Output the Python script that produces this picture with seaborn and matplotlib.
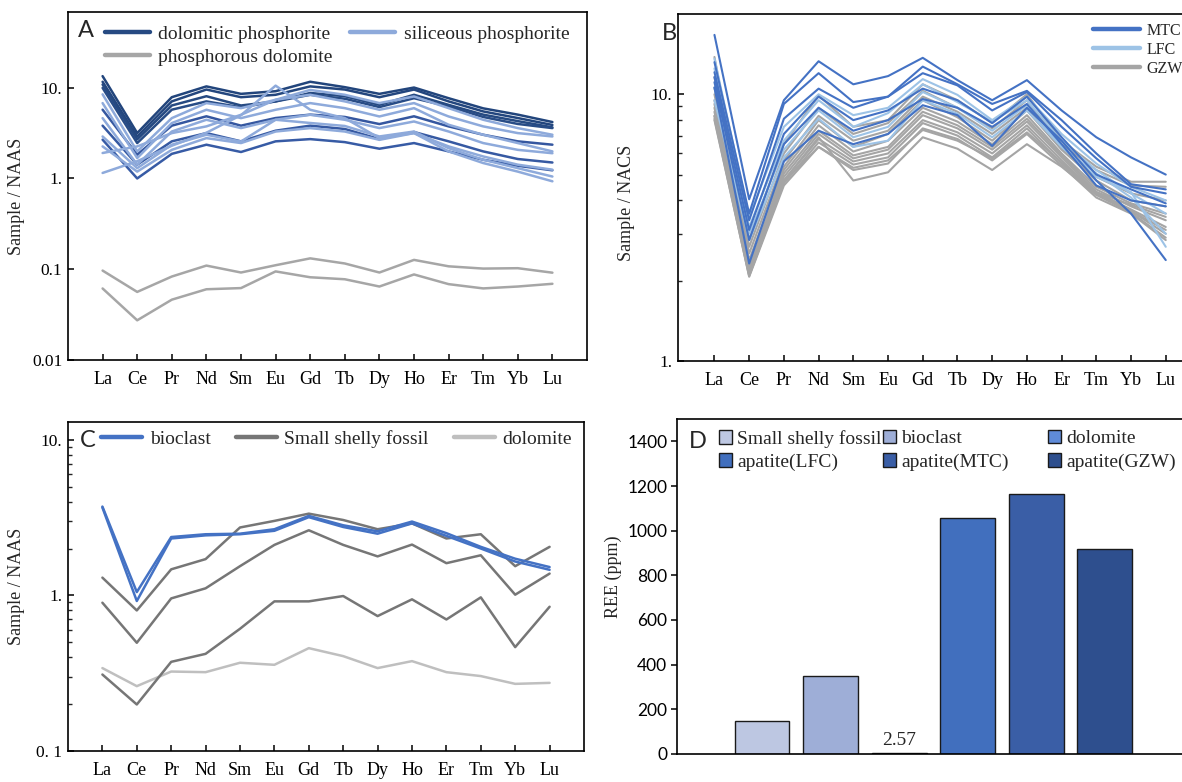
import numpy as np
import matplotlib
matplotlib.use("Agg")
import matplotlib.pyplot as plt
import seaborn as sns
from matplotlib.lines import Line2D
from matplotlib.patches import Patch
from matplotlib.legend import Legend
from matplotlib.ticker import FixedLocator, NullFormatter

# ---------------- data ----------------
ELEMENTS = ["La", "Ce", "Pr", "Nd", "Sm", "Eu", "Gd", "Tb", "Dy", "Ho", "Er", "Tm", "Yb", "Lu"]

# Panel A (Sample / NAAS)
DOLOMITIC_PHOSPHORITE = [
    [13.5, 3.17, 7.9, 10.4, 8.6, 9.2, 11.7, 10.2, 8.6, 10.1, 7.7, 5.95, 5.07, 4.2],
    [11.7, 2.9, 7.1, 9.6, 7.9, 8.4, 10.4, 9.6, 7.9, 9.6, 7.1, 5.5, 4.65, 3.9],
    [10.9, 2.7, 6.4, 8.1, 6.4, 7.1, 8.8, 8.1, 6.5, 8.4, 6.5, 5.07, 4.3, 3.67],
    [10.0, 2.46, 5.75, 7.1, 6.1, 7.1, 8.4, 7.6, 6.15, 7.7, 6.25, 4.78, 4.0, 3.6],
    [5.75, 1.83, 3.83, 4.86, 3.83, 4.65, 5.07, 4.78, 3.99, 4.86, 3.76, 3.04, 2.57, 2.36],
    [3.83, 1.42, 2.57, 3.17, 2.57, 3.37, 3.83, 3.52, 2.72, 3.26, 2.57, 1.99, 1.64, 1.5],
    [2.68, 1.0, 1.87, 2.36, 1.96, 2.57, 2.72, 2.52, 2.13, 2.46, 1.99, 1.61, 1.38, 1.23],
]
SILICEOUS_PHOSPHORITE = [
    [1.15, 1.55, 2.3, 3.2, 5.0, 10.6, 5.74, 4.64, 2.79, 3.17, 1.99, 1.48, 1.19, 0.93],
    [1.91, 2.26, 3.17, 3.76, 5.05, 7.4, 8.4, 7.1, 5.74, 6.8, 4.84, 3.76, 3.17, 2.91],
    [8.5, 1.99, 4.64, 6.8, 5.98, 7.4, 9.5, 8.4, 6.8, 8.05, 5.98, 4.45, 3.6, 3.04],
    [6.8, 1.68, 4.09, 5.74, 4.64, 5.74, 6.8, 5.98, 4.84, 5.98, 3.92, 3.04, 2.46, 1.99],
    [4.64, 1.42, 3.3, 4.45, 3.6, 4.45, 5.05, 4.45, 3.6, 4.26, 3.3, 2.46, 2.07, 1.9],
    [2.91, 1.3, 2.36, 3.04, 2.56, 4.45, 4.1, 3.8, 2.91, 3.3, 2.16, 1.61, 1.3, 1.05],
    [2.26, 1.19, 2.07, 2.79, 2.46, 3.3, 3.6, 3.3, 2.67, 3.17, 2.26, 1.75, 1.42, 1.25],
]
PHOSPHOROUS_DOLOMITE = [
    [0.096, 0.0558, 0.0825, 0.109, 0.0914, 0.110, 0.131, 0.115, 0.0914, 0.126, 0.107, 0.101, 0.102, 0.091],
    [0.0609, 0.0271, 0.0458, 0.0597, 0.0615, 0.094, 0.081, 0.077, 0.064, 0.087, 0.068, 0.061, 0.064, 0.0686],
]

# Panel B (Sample / NACS)
MTC = [
    [16.7, 4.04, 9.5, 13.3, 10.9, 11.7, 13.7, 11.3, 9.5, 11.3, 8.7, 6.9, 5.8, 5.0],
    [13.2, 3.57, 9.2, 12.0, 9.35, 9.8, 12.7, 10.9, 9.2, 10.3, 8.0, 6.0, 4.6, 4.4],
    [12.1, 3.37, 8.1, 10.5, 8.9, 9.8, 12.0, 10.8, 8.7, 10.2, 7.55, 5.75, 4.5, 4.25],
    [11.6, 3.1, 7.1, 9.8, 8.0, 8.7, 10.5, 9.5, 7.8, 9.8, 6.9, 5.0, 4.4, 3.9],
    [11.1, 2.84, 6.5, 8.9, 7.3, 8.0, 9.6, 8.9, 7.55, 9.2, 6.5, 4.55, 4.0, 3.8],
    [10.6, 2.32, 5.6, 7.3, 6.5, 7.1, 9.1, 8.35, 6.4, 8.9, 6.7, 4.75, 3.57, 2.39],
]
LFC = [
    [13.6, 3.47, 7.55, 10.0, 8.35, 8.9, 11.4, 9.95, 8.0, 9.8, 7.1, 5.5, 4.5, 4.0],
    [12.5, 3.18, 6.7, 9.5, 7.55, 8.5, 10.9, 9.35, 7.9, 9.5, 6.7, 5.2, 4.25, 3.57],
    [10.6, 3.0, 6.2, 8.7, 6.9, 7.55, 10.2, 8.9, 7.3, 9.1, 6.35, 5.05, 4.1, 3.0],
    [9.5, 2.84, 5.8, 8.1, 6.35, 6.7, 9.5, 8.45, 6.9, 8.7, 6.35, 4.9, 4.3, 2.68],
]
GZW = [
    [13.8, 2.84, 6.5, 9.9, 7.55, 8.0, 10.9, 9.5, 7.8, 10.0, 6.7, 5.35, 4.7, 4.7],
    [11.6, 2.68, 6.0, 8.9, 7.1, 7.8, 10.3, 8.9, 7.45, 9.5, 6.5, 5.2, 4.55, 4.5],
    [10.6, 2.53, 5.65, 8.3, 6.7, 7.3, 9.8, 8.6, 7.1, 8.9, 6.25, 4.9, 4.25, 4.0],
    [10.0, 2.39, 5.35, 8.0, 6.35, 7.1, 9.5, 8.2, 6.7, 8.7, 6.2, 4.75, 4.0, 3.8],
    [9.5, 2.25, 5.2, 7.65, 6.1, 6.7, 8.9, 7.9, 6.5, 8.35, 6.0, 4.5, 3.9, 3.57],
    [9.2, 2.19, 5.05, 7.3, 5.9, 6.35, 8.6, 7.65, 6.35, 8.1, 5.9, 4.4, 3.8, 3.37],
    [8.9, 2.16, 4.9, 7.1, 5.75, 6.2, 8.35, 7.45, 6.2, 7.9, 5.8, 4.3, 3.7, 3.18],
    [8.6, 2.13, 4.75, 6.8, 5.6, 6.0, 8.0, 7.2, 6.0, 7.65, 5.65, 4.25, 3.65, 3.0],
    [8.3, 2.1, 4.65, 6.6, 5.45, 5.8, 7.8, 7.0, 5.8, 7.45, 5.5, 4.2, 3.6, 2.9],
    [8.1, 2.07, 4.55, 6.35, 5.2, 5.5, 7.45, 6.8, 5.65, 7.1, 5.4, 4.1, 3.57, 2.84],
    [8.3, 2.16, 4.75, 6.9, 4.75, 5.1, 6.9, 6.25, 5.2, 6.5, 5.35, 4.2, 3.65, 3.1],
    [8.0, 2.08, 4.7, 6.35, 5.3, 5.65, 7.35, 6.7, 5.75, 7.2, 5.55, 4.3, 3.85, 3.47],
]

# Panel C (Sample / NAAS)
BIOCLAST = [
    [3.72, 1.05, 2.37, 2.47, 2.49, 2.66, 3.24, 2.82, 2.58, 2.98, 2.51, 2.05, 1.72, 1.52],
    [3.67, 0.92, 2.32, 2.43, 2.47, 2.60, 3.18, 2.75, 2.49, 2.90, 2.41, 2.00, 1.65, 1.46],
]
SMALL_SHELLY_FOSSIL = [
    [1.30, 0.80, 1.47, 1.71, 2.73, 3.01, 3.35, 3.05, 2.66, 2.90, 2.32, 2.47, 1.54, 2.05],
    [0.897, 0.496, 0.956, 1.11, 1.54, 2.11, 2.62, 2.11, 1.78, 2.12, 1.61, 1.81, 1.01, 1.38],
    [0.310, 0.199, 0.374, 0.421, 0.610, 0.915, 0.915, 0.99, 0.736, 0.943, 0.700, 0.971, 0.465, 0.845],
]
DOLOMITE_C = [
    [0.341, 0.261, 0.324, 0.321, 0.369, 0.358, 0.458, 0.407, 0.341, 0.378, 0.321, 0.303, 0.270, 0.274],
]

# Panel D (REE ppm)
D_CATEGORIES = ["Small shelly fossil", "bioclast", "dolomite", "apatite(LFC)", "apatite(MTC)", "apatite(GZW)"]
D_VALUES = [150, 351, 2.57, 1055, 1164, 917]

# ---------------- styles ----------------
sns.set_theme(style="ticks")
plt.rcParams["font.family"] = ["Liberation Serif", "DejaVu Serif"]
plt.rcParams["axes.linewidth"] = 1.2
plt.rcParams["axes.edgecolor"] = "black"

SERIF = ["Liberation Serif", "DejaVu Serif"]
SANS = ["Lato", "DejaVu Sans"]

DOLO_COLORS = ["#22457c", "#23467e", "#264a82", "#284c86", "#3557a0", "#3659a2", "#375ba5"]
SILI_COLOR = "#8eaadb"
PDOL_COLOR = "#a6a6a6"
MTC_COLOR = "#4472c4"
LFC_COLOR = "#9dc3e6"
GZW_COLOR = "#a5a5a5"
BIO_COLOR = "#4472c4"
SSF_COLOR = "#767676"
DOLC_COLOR = "#bfbfbf"
BAR_COLORS = ["#bdc7e2", "#9eaed7", "#5f8bd8", "#416fbe", "#3a5ea6", "#2e4f8e"]

W, H = 1182, 782
fig = plt.figure(figsize=(W / 100, H / 100), dpi=100)
fig.patch.set_facecolor("white")


def px_axes(left, top, right, bottom):
    return fig.add_axes([left / W, 1 - bottom / H, (right - left) / W, (bottom - top) / H])


axA = px_axes(68, 12, 587, 359.5)
axB = px_axes(678, 14, 1197, 361)
axC = px_axes(68, 422, 584, 751)
axD = px_axes(677, 419, 1196, 754)

x = np.arange(len(ELEMENTS))


def draw_lines(ax, series, colors, lw):
    for vals, c in zip(series, colors):
        sns.lineplot(x=x, y=vals, ax=ax, color=c, linewidth=lw, legend=False)


def style_log(ax, ylim, ticks, labels, minor=False, xlim=(-1, 14)):
    ax.set_yscale("log")
    ax.set_ylim(*ylim)
    ax.set_xlim(*xlim)
    ax.yaxis.set_major_locator(FixedLocator(ticks))
    ax.set_yticklabels(labels, fontfamily=SERIF, fontsize=12.5)
    if minor:
        mins = []
        for dec in ticks:
            for m in range(2, 10):
                v = dec * m
                if ylim[0] < v < ylim[1]:
                    mins.append(v)
        ax.yaxis.set_minor_locator(FixedLocator(mins))
    else:
        ax.yaxis.set_minor_locator(FixedLocator([]))
    ax.yaxis.set_minor_formatter(NullFormatter())
    ax.set_xticks(x)
    ax.set_xticklabels(ELEMENTS, fontfamily=SERIF, fontsize=13)
    ax.tick_params(axis="both", which="major", direction="in", length=4, width=1.1, colors="black")
    ax.tick_params(axis="y", which="minor", direction="in", length=3, width=1.0)
    ax.tick_params(axis="x", pad=8)
    ax.tick_params(axis="y", pad=4)
    ax.set_xlabel("")
    for s in ax.spines.values():
        s.set_visible(True)
        s.set_color("black")
        s.set_linewidth(1.2)


# ---------------- Panel A ----------------
draw_lines(axA, PHOSPHOROUS_DOLOMITE, [PDOL_COLOR] * 2, 1.8)
draw_lines(axA, DOLOMITIC_PHOSPHORITE, DOLO_COLORS, 1.8)
draw_lines(axA, SILICEOUS_PHOSPHORITE, [SILI_COLOR] * len(SILICEOUS_PHOSPHORITE), 1.8)
style_log(axA, (0.01, 69), [0.01, 0.1, 1, 10], ["0.01", "0.1", "1.", "10."])
axA.set_ylabel("Sample / NAAS", fontfamily=SERIF, fontsize=13)
axA.yaxis.set_label_coords(-0.083, 0.468)
hA = [Line2D([], [], color="#264a82", lw=3.2),
      Line2D([], [], color=PDOL_COLOR, lw=3.2),
      Line2D([], [], color=SILI_COLOR, lw=3.2)]
axA.legend(hA, ["dolomitic phosphorite", "phosphorous dolomite", "siliceous phosphorite"],
           ncol=2, loc="upper left", bbox_to_anchor=(0.071, 0.962), frameon=False,
           prop={"family": SERIF, "size": 14}, handlelength=2.3, handletextpad=0.45,
           columnspacing=0.9, labelspacing=0.3, borderpad=0, borderaxespad=0)
axA.text(0.019, 0.977, "A", transform=axA.transAxes, ha="left", va="top",
         fontfamily=SANS, fontsize=17)

# ---------------- Panel B ----------------
draw_lines(axB, GZW, [GZW_COLOR] * len(GZW), 1.5)
draw_lines(axB, LFC, [LFC_COLOR] * len(LFC), 1.5)
draw_lines(axB, MTC, [MTC_COLOR] * len(MTC), 1.5)
style_log(axB, (1, 20), [1, 10], ["1.", "10."], minor=True, xlim=(-1.05, 13.9))
axB.set_ylabel("Sample / NACS", fontfamily=SERIF, fontsize=13)
axB.yaxis.set_label_coords(-0.083, 0.455)
hB = [Line2D([], [], color=MTC_COLOR, lw=3.2),
      Line2D([], [], color=LFC_COLOR, lw=3.2),
      Line2D([], [], color=GZW_COLOR, lw=3.2)]
axB.legend(hB, ["MTC", "LFC", "GZW"], loc="upper left", bbox_to_anchor=(0.80, 0.975),
           frameon=False, prop={"family": SERIF, "size": 11.5}, handlelength=2.9,
           handletextpad=0.45, labelspacing=0.2, borderpad=0, borderaxespad=0)
axB.text(-0.031, 0.975, "B", transform=axB.transAxes, ha="left", va="top",
         fontfamily=SANS, fontsize=17)

# ---------------- Panel C ----------------
draw_lines(axC, DOLOMITE_C, [DOLC_COLOR], 1.8)
draw_lines(axC, SMALL_SHELLY_FOSSIL, [SSF_COLOR] * 3, 1.8)
draw_lines(axC, BIOCLAST, [BIO_COLOR] * 2, 1.8)
style_log(axC, (0.1, 13), [0.1, 1, 10], ["0. 1", "1.", "10."], minor=True)
axC.set_ylabel("Sample / NAAS", fontfamily=SERIF, fontsize=13)
axC.yaxis.set_label_coords(-0.083, 0.5)
hC = [Line2D([], [], color=BIO_COLOR, lw=3.2),
      Line2D([], [], color=SSF_COLOR, lw=3.2),
      Line2D([], [], color=DOLC_COLOR, lw=3.2)]
axC.legend(hC, ["bioclast", "Small shelly fossil", "dolomite"], ncol=3, loc="upper left",
           bbox_to_anchor=(0.064, 0.975), frameon=False, prop={"family": SERIF, "size": 14},
           handlelength=2.1, handletextpad=0.4, columnspacing=1.3, borderpad=0, borderaxespad=0)
axC.text(0.023, 0.975, "C", transform=axC.transAxes, ha="left", va="top",
         fontfamily=SANS, fontsize=17)

# ---------------- Panel D ----------------
sns.barplot(x=D_CATEGORIES, y=D_VALUES, hue=D_CATEGORIES, palette=BAR_COLORS,
            order=D_CATEGORIES, hue_order=D_CATEGORIES, width=0.80, dodge=False,
            saturation=1, edgecolor="#1a1a1a", linewidth=1.0, legend=False, ax=axD)
axD.set_xlim(-1.24, 6.33)
axD.set_ylim(0, 1500)
axD.set_yticks(range(0, 1401, 200))
axD.set_yticklabels([str(v) for v in range(0, 1401, 200)], fontfamily=SANS, fontsize=12.5)
axD.set_xticks([])
axD.set_xlabel("")
axD.set_ylabel("REE (ppm)", fontfamily=SERIF, fontsize=13)
axD.yaxis.set_label_coords(-0.106, 0.528)
axD.tick_params(axis="y", direction="out", length=4, width=1.1, colors="black", pad=3)
for s in axD.spines.values():
    s.set_visible(True)
    s.set_color("black")
    s.set_linewidth(1.2)
axD.annotate(f"{D_VALUES[2]}", xy=(2, D_VALUES[2]), xytext=(0, 3), textcoords="offset points",
             ha="center", va="bottom", fontfamily=SERIF, fontsize=14)

hD = [Patch(facecolor=c, edgecolor="#1a1a1a", linewidth=1.0) for c in BAR_COLORS]
col_x = [0.080, 0.396, 0.714]
for k in range(3):
    leg = Legend(axD, [hD[k], hD[k + 3]], [D_CATEGORIES[k], D_CATEGORIES[k + 3]],
                 loc="upper left", bbox_to_anchor=(col_x[k], 0.968), frameon=False,
                 prop={"family": SERIF, "size": 14}, handlelength=0.7, handleheight=0.7,
                 handletextpad=0.25, labelspacing=0.3, borderpad=0, borderaxespad=0)
    axD.add_artist(leg)
axD.text(0.023, 0.965, "D", transform=axD.transAxes, ha="left", va="top",
         fontfamily=SANS, fontsize=17)

fig.savefig("out.png", dpi=100, facecolor="white")
